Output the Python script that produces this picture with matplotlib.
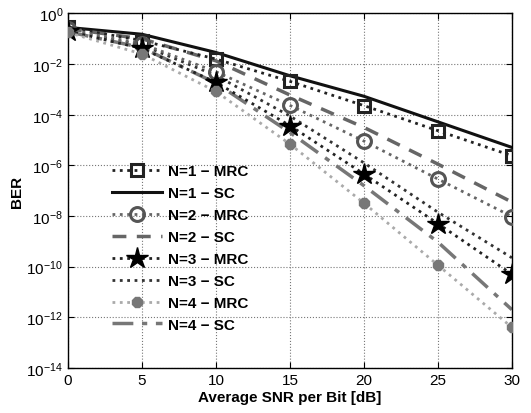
import numpy as np
import matplotlib
matplotlib.use('Agg')
import matplotlib.pyplot as plt

plt.rcParams['font.family'] = ['Liberation Sans', 'DejaVu Sans']

# SNR par bit [dB]
snr = [0, 5, 10, 15, 20, 25, 30]

# log10(BER)
n1_mrc = [-0.55, -1.07, -1.80, -2.68, -3.64, -4.63, -5.62]
n1_sc = [-0.55, -0.82, -1.54, -2.46, -3.27, -4.28, -5.29]
n2_mrc = [-0.62, -1.20, -2.30, -3.63, -5.04, -6.54, -8.02]
n2_sc = [-0.60, -1.00, -1.87, -3.22, -4.50, -5.95, -7.45]
n3_mrc = [-0.70, -1.38, -2.72, -4.43, -6.34, -8.30, -10.30]
n3_sc = [-0.68, -1.25, -2.45, -4.05, -5.90, -7.85, -9.65]
n4_mrc = [-0.75, -1.60, -3.08, -5.16, -7.49, -9.94, -12.40]
n4_sc = [-0.72, -1.35, -2.75, -4.70, -6.80, -9.03, -11.70]

labels = ['N=1 \u2212 MRC', 'N=1 \u2212 SC', 'N=2 \u2212 MRC', 'N=2 \u2212 SC',
          'N=3 \u2212 MRC', 'N=3 \u2212 SC', 'N=4 \u2212 MRC', 'N=4 \u2212 SC']


def ber(v):
    return 10.0 ** np.array(v)


fig = plt.figure(figsize=(5.31, 4.14), dpi=100)
ax = fig.add_axes([0.128, 0.109, 0.836, 0.856])

ax.semilogy(snr, ber(n1_mrc), ':', color='#222222', lw=2, marker='s', ms=9,
            mfc='none', mec='#222222', mew=2.2, label=labels[0], zorder=5)
ax.semilogy(snr, ber(n1_sc), '-', color='#111111', lw=2.2, label=labels[1])
ax.semilogy(snr, ber(n2_mrc), ':', color='#666666', lw=2, marker='o', ms=10,
            mfc='none', mec='#555555', mew=2.2, label=labels[2], zorder=5)
ax.semilogy(snr, ber(n2_sc), '--', color='#666666', lw=2.5, dashes=(4, 3),
            label=labels[3])
ax.semilogy(snr, ber(n3_mrc), ':', color='#222222', lw=2, marker='*', ms=16,
            mfc='black', mec='black', label=labels[4], zorder=5)
ax.semilogy(snr, ber(n3_sc), ':', color='#333333', lw=2, label=labels[5])
ax.semilogy(snr, ber(n4_mrc), ':', color='#aaaaaa', lw=2, marker='8', ms=8.5,
            mfc='#777777', mec='#777777', label=labels[6], zorder=5)
ax.semilogy(snr, ber(n4_sc), '-.', color='#777777', lw=2.5,
            dashes=(6, 2.5, 1.5, 2.5), label=labels[7])

ax.set_xlim(0, 30)
ax.set_ylim(1e-14, 1)
ax.set_xticks(snr)
ax.set_yticks([10.0 ** k for k in range(0, -15, -2)])
ax.yaxis.set_minor_locator(matplotlib.ticker.NullLocator())
ax.tick_params(direction='in', top=True, right=True, labelsize=11, length=4)
ax.grid(True, linestyle=':', color='#777777', lw=0.8)

for s in ax.spines.values():
    s.set_linewidth(1.0)

ax.set_xlabel('Average SNR per Bit [dB]', fontsize=11, fontweight='bold', labelpad=2)
ax.set_ylabel('BER', fontsize=11, fontweight='bold', labelpad=2)

leg = ax.legend(loc='upper left', bbox_to_anchor=(0.085, 0.592), frameon=False,
                handlelength=3.3, labelspacing=0.52, handletextpad=0.4,
                prop={'weight': 'bold', 'size': 11}, borderaxespad=0)

fig.savefig('out.png', dpi=100)
